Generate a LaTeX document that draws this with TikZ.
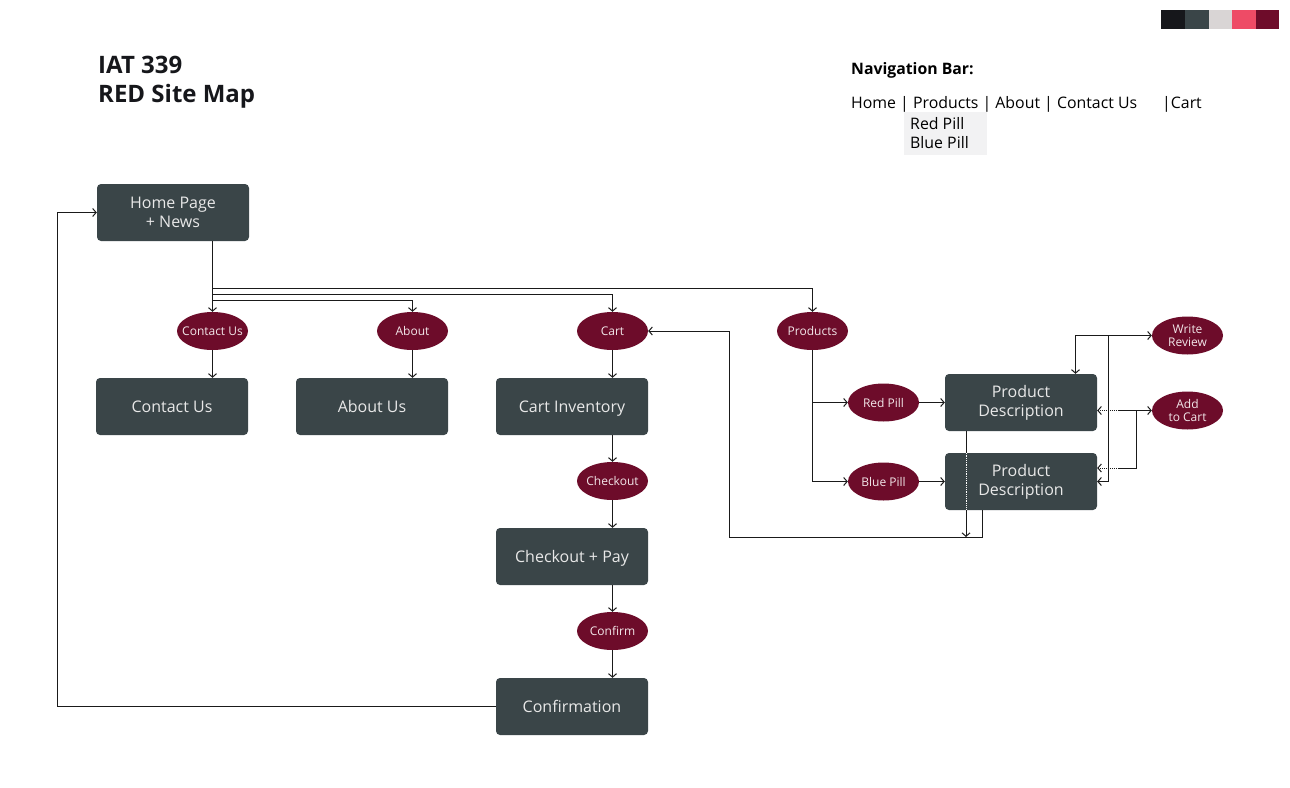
\documentclass[tikz,border=0pt]{standalone}
\usepackage{fontspec}
\setmainfont{Open Sans}
\usetikzlibrary{arrows.meta,calc,shapes.geometric}
\definecolor{boxc}{HTML}{3A4548}
\definecolor{ellc}{HTML}{6D0C2A}
\definecolor{linec}{HTML}{1A1A1A}
\definecolor{boxtxt}{HTML}{E8E8E8}
\definecolor{elltxt}{HTML}{F2E6E9}
\definecolor{pal1}{HTML}{16171B}
\definecolor{pal2}{HTML}{3A4548}
\definecolor{pal3}{HTML}{D9D5D5}
\definecolor{pal4}{HTML}{EE4B66}
\definecolor{pal5}{HTML}{6E0C2A}
\definecolor{dropc}{HTML}{F2F2F3}
\begin{document}
\begin{tikzpicture}[x=1pt,y=-1pt,
  pagebox/.style={rectangle,rounded corners=4pt,fill=boxc,minimum width=152pt,minimum height=57pt,text=boxtxt,font=\fontsize{16}{19}\selectfont,align=center,inner sep=0pt},
  oneline/.style={text height=14pt,text depth=3pt},
  linkell/.style={ellipse,fill=ellc,minimum width=71pt,minimum height=38pt,text=elltxt,font=\fontsize{12}{13.5}\selectfont,align=center,inner ysep=0pt,inner xsep=-9pt},
  conn/.style={draw=linec,line width=1pt},
  arr/.style={conn,-{Straight Barb[length=3.5pt,width=8pt]}},
  arrb/.style={conn,{Straight Barb[length=3.5pt,width=8pt]}-{Straight Barb[length=3.5pt,width=8pt]}},
  navtxt/.style={anchor=base west,inner sep=0pt,font=\fontsize{15.85}{19}\selectfont,text=black}
]
\useasboundingbox (0,0) rectangle (1290,787);
\fill[white] (0,0) rectangle (1290,787);
% palette
\fill[pal1] (1161,10) rectangle (1185,29);
\fill[pal2] (1185,10) rectangle (1209,29);
\fill[pal3] (1209,10) rectangle (1232,29);
\fill[pal4] (1232,10) rectangle (1256,29);
\fill[pal5] (1256,10) rectangle (1279,29);
% titles
\node[anchor=base west,inner sep=0pt,font=\fontsize{24}{28}\selectfont\bfseries,text=pal1] (t1) at (98,73) {IAT 339};
\node[anchor=base west,inner sep=0pt,font=\fontsize{24}{28}\selectfont\bfseries,text=pal1] (t2) at (98,102) {RED Site Map};
% navigation
\node[anchor=base west,inner sep=0pt,font=\fontsize{15.8}{19}\selectfont\bfseries] (navh) at (851,74) {Navigation Bar:};
\fill[dropc] (904,112) rectangle (987,155);
\node[navtxt] (nav) at (851,108) {Home | Products | About | Contact Us};
\node[navtxt] (navc) at (1162,108) {|Cart};
\node[navtxt] (nrp) at (910,129) {Red Pill};
\node[navtxt] (nbp) at (910,148) {Blue Pill};
% page boxes
\node[pagebox] (home) at (173,212.5) {Home Page\\+ News};
\node[pagebox,oneline] (bcu) at (172,406.5) {Contact Us};
\node[pagebox,oneline] (bab) at (372,406.5) {About Us};
\node[pagebox,oneline] (bcart) at (572,406.5) {Cart Inventory};
\node[pagebox,oneline] (bchk) at (572,556.5) {Checkout + Pay};
\node[pagebox,oneline] (bconf) at (572,706.5) {Confirmation};
\node[pagebox] (pd1) at (1021,402.5) {Product\\Description};
\node[pagebox] (pd2) at (1021,481.5) {Product\\Description};
% link ellipses
\node[linkell] (ecu) at (212.5,331) {Contact Us};
\node[linkell] (eab) at (412.5,331) {About};
\node[linkell] (ecart) at (612.5,331) {Cart};
\node[linkell] (eprod) at (812.5,331) {Products};
\node[linkell] (echk) at (612.5,481) {Checkout};
\node[linkell] (econf) at (612.5,631) {Confirm};
\node[linkell] (ered) at (883.5,402.5) {Red Pill};
\node[linkell] (eblue) at (883.5,481.5) {Blue Pill};
\node[linkell,font=\fontsize{12}{13}\selectfont] (ewr) at (1187.5,335.5) {Write\\Review};
\node[linkell,font=\fontsize{12}{13}\selectfont] (eatc) at (1187.5,410.5) {Add\\to Cart};
% junctions
\coordinate (jp) at (212.5,288);
\coordinate (jc) at (212.5,294);
\coordinate (ja) at (212.5,300);
\coordinate (lp) at (57,706.5);
\coordinate (b1) at (966,537);
\coordinate (b2) at (982,537);
\coordinate (b3) at (729,537);
\coordinate (w1) at (1075.5,335);
\coordinate (v1) at (1108,335.5);
\coordinate (a1) at (1136,410.5);
\coordinate (d1) at (1119,410.5);
\coordinate (d2) at (1119,468);
% home to links
\draw[arr] (ecu.north |- home.south) -- (ecu.north);
\draw[arr] (jp) -| (eprod.north);
\draw[arr] (jc) -| (ecart.north);
\draw[arr] (ja) -| (eab.north);
% links to pages
\draw[arr] (ecu.south) -- (ecu.south |- bcu.north);
\draw[arr] (eab.south) -- (eab.south |- bab.north);
\draw[arr] (ecart.south) -- (ecart.south |- bcart.north);
\draw[arr] (echk.north |- bcart.south) -- (echk.north);
\draw[arr] (echk.south) -- (echk.south |- bchk.north);
\draw[arr] (econf.north |- bchk.south) -- (econf.north);
\draw[arr] (econf.south) -- (econf.south |- bconf.north);
% back to home
\draw[arr] (bconf.west) -- (lp) |- (home.west);
% products
\draw[arr] (eprod.south) |- (eblue.west);
\draw[arr] (eprod.south |- ered.west) -- (ered.west);
\draw[arr] (ered.east) -- (pd1.west);
\draw[arr] (eblue.east) -- (pd2.west);
% product descriptions to cart
\draw[conn] (b1 |- pd1.south) -- (b1 |- pd2.north);
\draw[white,line width=0.8pt,densely dotted] (b1 |- pd2.north) -- (b1 |- pd2.south);
\draw[arr] (b1 |- pd2.south) -- (b1);
\draw[arr] (b2 |- pd2.south) -- (b2) -- (b3) |- (ecart.east);
% write review
\draw[arrb] (ewr.west) -| (w1 |- pd1.north);
\draw[arr] (v1) |- (pd2.east);
% add to cart
\draw[arr] (d1) -- (eatc.west);
\draw[arr,densely dotted] (d1) -- (d1 -| pd1.east);
\draw[conn] (a1) |- (d2);
\draw[arr,densely dotted] (d2) -- (d2 -| pd2.east);
\end{tikzpicture}
\end{document}
